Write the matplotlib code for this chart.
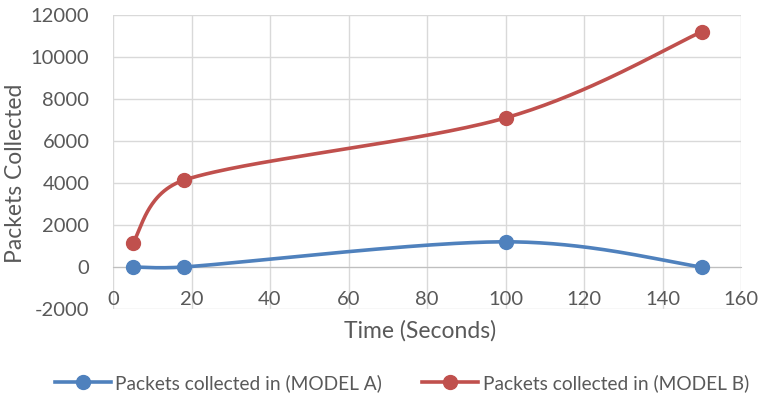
import numpy as np
import matplotlib.pyplot as plt

plt.rcParams['font.family'] = ['Lato', 'DejaVu Sans']
plt.rcParams['axes.unicode_minus'] = False

time_s = [5, 18, 100, 150]
model_a = [0, 0, 1200, 0]
model_b = [1150, 4130, 7100, 11200]
labels = ["Packets collected in (MODEL A)", "Packets collected in (MODEL B)"]
colors = ["#4F81BD", "#C0504D"]

xlim = (0, 160)
ylim = (-2000, 12000)


def smooth(xs, ys, n=60):
    # smoothed line like Excel: Catmull-Rom Bezier, tangent clamped by chord length
    sx = (xlim[1] - xlim[0]) / 628.0
    sy = (ylim[1] - ylim[0]) / 294.0
    p = np.column_stack([np.array(xs) / sx, np.array(ys) / sy])
    out = [p[0]]
    for i in range(len(p) - 1):
        p0 = p[i - 1] if i > 0 else p[i]
        p1, p2 = p[i], p[i + 1]
        p3 = p[i + 2] if i + 2 < len(p) else p[i + 1]
        L = np.linalg.norm(p2 - p1)
        d1 = (p2 - p0) / 6
        d2 = (p3 - p1) / 6
        lim = 0.5 * L
        if np.linalg.norm(d1) > lim:
            d1 = d1 / np.linalg.norm(d1) * lim
        if np.linalg.norm(d2) > lim:
            d2 = d2 / np.linalg.norm(d2) * lim
        c1 = p1 + d1
        c2 = p2 - d2
        t = np.linspace(0, 1, n)[1:, None]
        seg = ((1 - t) ** 3) * p1 + 3 * ((1 - t) ** 2) * t * c1 + 3 * (1 - t) * t ** 2 * c2 + t ** 3 * p2
        out.extend(seg)
    out = np.array(out)
    return out[:, 0] * sx, out[:, 1] * sy


fig = plt.figure(figsize=(7.58, 3.98), dpi=100)
ax = fig.add_axes([113 / 758, 1 - 309 / 398, 628 / 758, 294 / 398])

for ys, lab, c in zip([model_a, model_b], labels, colors):
    sx, sy = smooth(time_s, ys)
    ax.plot(sx, sy, color=c, lw=2.6, zorder=3)
    ax.plot(time_s, ys, 'o', color=c, ms=10, zorder=4)
    ax.plot([], [], '-o', color=c, lw=2.6, ms=10, label=lab)

ax.set_xlim(*xlim)
ax.set_ylim(*ylim)
ax.set_xticks(range(0, 161, 20))
ax.set_yticks(range(-2000, 12001, 2000))
ax.grid(True, color="#d9d9d9", lw=1)
ax.set_axisbelow(True)
for s in ['top', 'right', 'left']:
    ax.spines[s].set_visible(False)
ax.spines['bottom'].set_position(('data', 0))
ax.spines['bottom'].set_color("#bfbfbf")
ax.tick_params(axis='both', length=0, labelsize=14.5, labelcolor="#595959")
ax.tick_params(axis='x', pad=17)
ax.tick_params(axis='y', pad=17)

fig.text(420 / 758, 1 - 331 / 398, "Time (Seconds)", ha='center', va='center',
         fontsize=16.5, color="#595959")
fig.text(16 / 758, 1 - 173 / 398, "Packets Collected", ha='center', va='center',
         rotation=90, fontsize=16.5, color="#595959")

fig.legend(loc='center', bbox_to_anchor=(402 / 758, 1 - 383 / 398), ncol=2,
           frameon=False, fontsize=13.8, labelcolor="#595959", handlelength=2.9,
           handletextpad=0.25, columnspacing=2.1)

fig.savefig("out.png", dpi=100)
